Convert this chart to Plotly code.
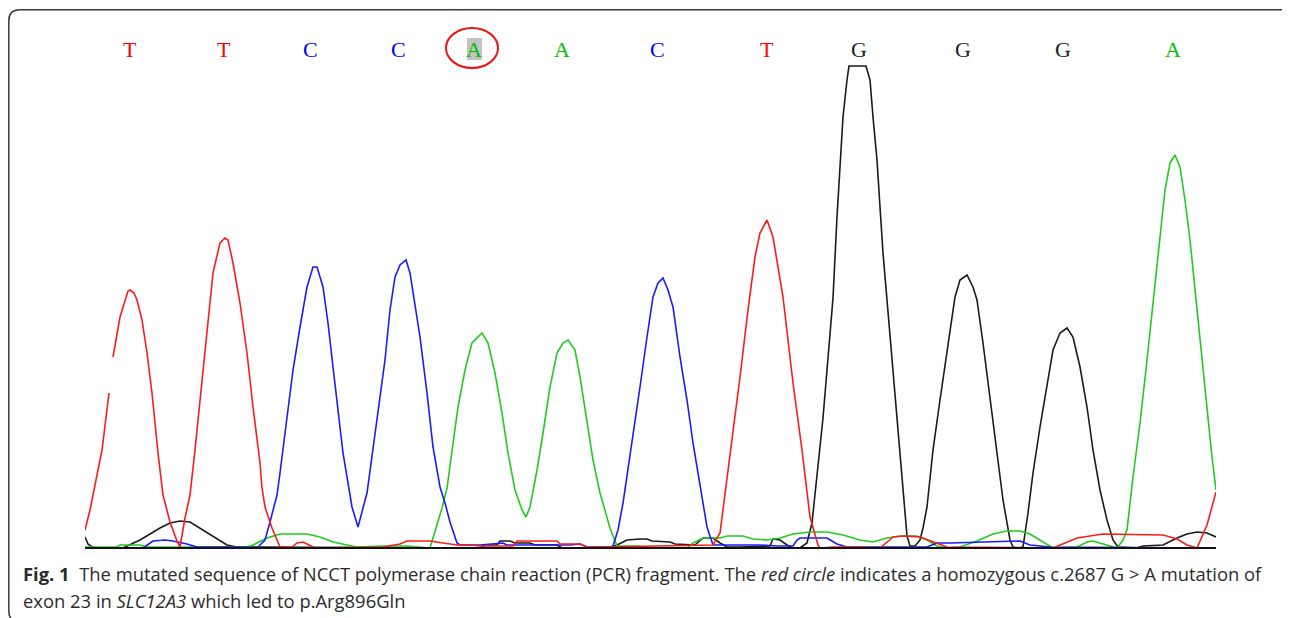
import plotly.graph_objects as go

# ---- base calls (top letters) ----
base_letters = ["T", "T", "C", "C", "A", "A", "C", "T", "G", "G", "G", "A"]
base_pos = [130, 224, 310, 398, 474, 562, 657, 767, 859, 963, 1063, 1173]
mutated_index = 4

# ---- trace data: scan position and signal height ----
t_x = [85, 90, 96, 102, 109, None, 113, 120, 128, 130, 134, 137, 142, 147, 152, 158, 163, 170, 177, 180,
       185, 190, 195, 202, 208, 213, 220, 225, 228, 233, 240, 247, 253, 260, 262, 265, 272, 280, 292, 297,
       303, 309, 315, 383, 400, 407, 430, 443, 457, 470, 480, 513, 517, 557, 560, 580, 587, 603, 667, 693,
       713, 720, 730, 740, 748, 755, 760, 767, 773, 778, 783, 793, 802, 810, 818, 820, 833, 860, 880, 893,
       905, 920, 947, 1053, 1077, 1103, 1163, 1177, 1187, 1197, 1207, 1216]
t_y = [18, 38, 68, 98, 155, None, 191, 231, 257, 258, 255, 248, 228, 195, 155, 95, 53, 26, 7, 1,
       30, 53, 98, 168, 228, 275, 305, 310, 308, 285, 245, 195, 141, 85, 60, 41, 20, 1, 1, 5,
       6, 3, 0, 1, 4, 7, 7, 5, 3, 3, 2, 2, 7, 7, 4, 4, 1, 1, 2, 3,
       3, 15, 91, 171, 238, 291, 315, 328, 311, 281, 251, 165, 98, 31, 3, 0, 1, 1, 0, 11,
       12, 11, 1, 0, 10, 14, 13, 9, 3, 0, 23, 56]

c_x = [85, 143, 153, 165, 173, 187, 197, 220, 247, 257, 265, 270, 277, 280, 287, 293, 300, 307, 313, 317,
       323, 328, 333, 338, 343, 352, 358, 367, 373, 380, 385, 390, 395, 400, 406, 410, 415, 420, 427, 433,
       440, 445, 450, 457, 460, 480, 503, 507, 570, 580, 587, 610, 613, 618, 623, 633, 640, 647, 653, 658,
       663, 668, 673, 680, 687, 693, 700, 707, 713, 717, 760, 777, 793, 797, 800, 827, 837, 847, 860, 910,
       927, 937, 950, 1020, 1030, 1050, 1216]
c_y = [0, 0, 7, 8, 7, 4, 1, 1, 1, 0, 8, 26, 53, 75, 128, 178, 221, 261, 281, 281,
       261, 225, 181, 138, 95, 41, 21, 55, 98, 148, 188, 238, 271, 283, 288, 275, 245, 211, 155, 101,
       61, 45, 26, 5, 3, 3, 5, 3, 3, 4, 1, 1, 2, 18, 45, 111, 161, 211, 251, 265,
       270, 258, 241, 191, 148, 105, 61, 21, 3, 3, 3, 2, 2, 8, 10, 10, 4, 1, 1, 1,
       1, 5, 5, 7, 3, 1, 0]

a_x = [85, 117, 120, 140, 147, 247, 253, 267, 280, 307, 320, 333, 347, 357, 383, 407, 430, 437, 442, 447,
       452, 458, 465, 472, 482, 488, 495, 502, 508, 515, 522, 526, 530, 537, 543, 550, 557, 563, 568, 575,
       580, 587, 593, 600, 605, 610, 617, 637, 660, 687, 693, 703, 720, 727, 743, 753, 767, 780, 793, 810,
       827, 843, 860, 873, 887, 900, 917, 927, 937, 947, 960, 977, 993, 1007, 1020, 1030, 1043, 1053, 1077, 1087,
       1093, 1103, 1117, 1123, 1127, 1133, 1140, 1147, 1153, 1160, 1165, 1170, 1175, 1180, 1185, 1190, 1195, 1197,
       1202, 1207, 1212, 1216]
a_y = [1, 1, 3, 3, 1, 1, 3, 10, 14, 14, 11, 6, 3, 1, 2, 2, 0, 23, 40, 60,
       95, 141, 178, 205, 215, 205, 175, 135, 95, 58, 38, 31, 41, 78, 115, 161, 195, 205, 208, 198,
       171, 128, 88, 55, 38, 20, 2, 2, 0, 0, 5, 10, 10, 12, 12, 9, 8, 10, 14, 16,
       16, 13, 8, 6, 10, 12, 12, 8, 2, 0, 1, 7, 14, 17, 17, 14, 6, 0, 1, 6,
       7, 4, 0, 8, 18, 71, 125, 188, 245, 315, 358, 385, 393, 381, 348, 308, 258, 238,
       188, 138, 91, 58]

g_x = [85, 88, 92, 97, 123, 130, 140, 150, 160, 170, 180, 190, 200, 210, 220, 227, 237, 457, 480, 485,
       497, 500, 510, 515, 530, 535, 557, 562, 610, 617, 627, 640, 647, 652, 670, 675, 695, 703, 713, 720,
       727, 740, 760, 770, 773, 780, 787, 793, 800, 807, 812, 817, 823, 828, 833, 837, 840, 843, 847, 849,
       866, 870, 873, 877, 880, 883, 887, 892, 897, 902, 907, 910, 915, 920, 923, 927, 933, 940, 947, 953,
       955, 960, 967, 973, 977, 983, 990, 997, 1003, 1010, 1013, 1018, 1023, 1028, 1033, 1040, 1047, 1053, 1060, 1067,
       1073, 1080, 1087, 1093, 1100, 1107, 1113, 1118, 1137, 1143, 1163, 1177, 1187, 1197, 1207, 1216]
g_y = [11, 4, 1, 0, 0, 3, 8, 14, 20, 25, 27, 26, 20, 14, 8, 3, 1, 0, 0, 3,
       3, 7, 7, 5, 5, 3, 3, 0, 0, 3, 8, 9, 9, 7, 6, 4, 3, 10, 10, 5,
       1, 1, 2, 2, 9, 8, 3, 0, 0, 5, 25, 70, 130, 190, 250, 331, 388, 431, 468, 482,
       482, 468, 431, 388, 341, 295, 248, 189, 130, 71, 12, 2, 2, 8, 20, 41, 98, 148, 195, 235,
       251, 268, 273, 261, 248, 205, 151, 98, 48, 8, 1, 0, 1, 35, 75, 121, 165, 198, 215, 220,
       211, 181, 141, 98, 58, 28, 8, 1, 0, 2, 3, 10, 14, 16, 15, 11]

channels = [
    ("G", g_x, g_y, "#1a1a1a"),
    ("A", a_x, a_y, "#1fcc1f"),
    ("C", c_x, c_y, "#1a1aff"),
    ("T", t_x, t_y, "#ff1a1a"),
]
letter_colors = {"T": "#ff0000", "C": "#0000ff", "A": "#00c000", "G": "#222222"}

# ---- geometry (screen pixels; the page body adds an 8px margin) ----
OFF = 8
SW, SH = 1290, 618
W, H = SW - OFF, SH - OFF
PL, PR, PT, PB = 85, 1216, 20, 550      # plot area on screen
L, R, T, B = PL - OFF, W - (PR - OFF), PT - OFF, H - (PB - OFF)
X0, X1 = 85, 1216
Y0, Y1 = -2, 528


def px(xs):
    return (xs - PL) / (PR - PL)


def py(ys):
    return (PB - ys) / (PB - PT)


fig = go.Figure()
for name, xs, ys, col in channels:
    fig.add_trace(go.Scatter(x=xs, y=ys, mode="lines", name=name,
                             line=dict(color=col, width=1.6), connectgaps=False,
                             hoverinfo="skip", showlegend=False))

shapes = []
shapes.append(dict(type="line", xref="x", yref="y", x0=X0, x1=X1, y0=0, y1=0,
                   line=dict(color="#111111", width=2), layer="above"))
mx = base_pos[mutated_index]
shapes.append(dict(type="rect", xref="x", yref="y", x0=mx - 7, x1=mx + 8, y0=488, y1=510,
                   fillcolor="#c3c3c3", line=dict(width=0), layer="below"))
shapes.append(dict(type="circle", xref="x", yref="y", x0=mx - 28, x1=mx + 24, y0=480, y1=520,
                   line=dict(color="#ee1111", width=2), layer="above"))
xl, xr, yt, yb, r = 8.8, 1293, 9.8, 622, 11
path = (f"M {px(xl)},{py(yt + r)} Q {px(xl)},{py(yt)} {px(xl + r)},{py(yt)} "
        f"L {px(xr - r)},{py(yt)} Q {px(xr)},{py(yt)} {px(xr)},{py(yt + r)} "
        f"L {px(xr)},{py(yb - r)} Q {px(xr)},{py(yb)} {px(xr - r)},{py(yb)} "
        f"L {px(xl + r)},{py(yb)} Q {px(xl)},{py(yb)} {px(xl)},{py(yb - r)} Z")
shapes.append(dict(type="path", xref="paper", yref="paper", path=path,
                   line=dict(color="#3a3a3a", width=1.5), fillcolor="rgba(0,0,0,0)"))

annotations = []
for lab, xp in zip(base_letters, base_pos):
    annotations.append(dict(x=xp, y=499, xref="x", yref="y", text=lab, showarrow=False,
                            font=dict(family="Liberation Serif, Times New Roman, serif", size=22,
                                      color=letter_colors[lab]),
                            xanchor="center", yanchor="middle"))

cap_font = dict(family="Open Sans, Noto Sans, sans-serif", size=18.4, color="#2b2b2b")
line1 = ("<b>Fig. 1</b>&nbsp;&nbsp;The mutated sequence of NCCT polymerase chain reaction (PCR) fragment. "
         "The <i>red circle</i> indicates a homozygous c.2687 G &gt; A mutation of")
line2 = "exon 23 in <i>SLC12A3</i> which led to p.Arg896Gln"
annotations.append(dict(x=px(21), y=py(573), xref="paper", yref="paper", text=line1, showarrow=False,
                        xanchor="left", yanchor="middle", font=cap_font, align="left"))
annotations.append(dict(x=px(21), y=py(600), xref="paper", yref="paper", text=line2, showarrow=False,
                        xanchor="left", yanchor="middle", font=cap_font, align="left"))

fig.update_layout(
    width=W, height=H, margin=dict(l=L, r=R, t=T, b=B),
    paper_bgcolor="white", plot_bgcolor="white",
    xaxis=dict(range=[X0, X1], visible=False, fixedrange=True),
    yaxis=dict(range=[Y0, Y1], visible=False, fixedrange=True),
    shapes=shapes, annotations=annotations, showlegend=False,
)
fig.write_html("out.html")
